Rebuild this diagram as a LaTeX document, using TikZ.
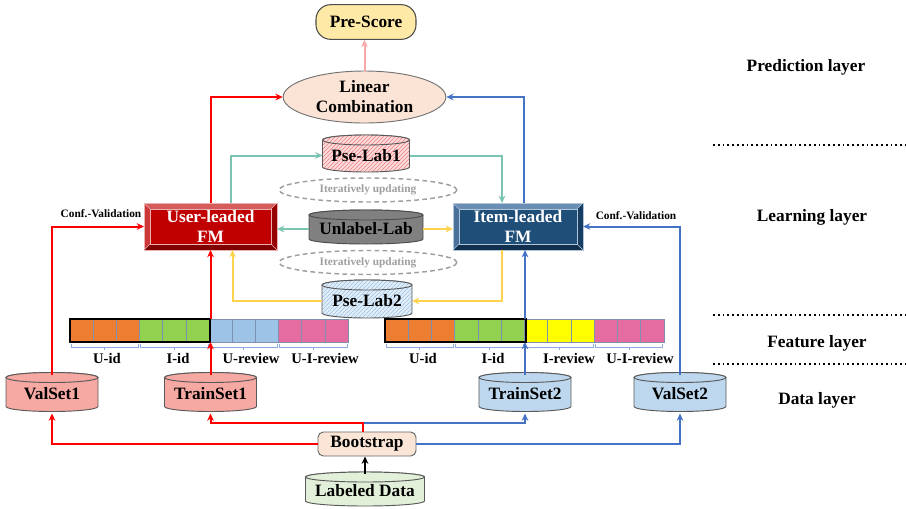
\documentclass[tikz,border=0pt]{standalone}
\usepackage{fontspec}
\setmainfont{Liberation Serif}
\usetikzlibrary{arrows.meta,calc,shapes.geometric,patterns}

% palette
\definecolor{cRed}{HTML}{FF0000}
\definecolor{cBlue}{HTML}{4472C4}
\definecolor{cTeal}{HTML}{7CC4B2}
\definecolor{cYel}{HTML}{FFD34D}
\definecolor{cPink}{HTML}{F7A8A8}
\definecolor{psFill}{HTML}{FFE9A6}
\definecolor{lcFill}{HTML}{FBE3D6}
\definecolor{bsFill}{HTML}{FBE5D6}
\definecolor{ldFill}{HTML}{E2F0D9}
\definecolor{vsRed}{HTML}{F6A8A2}
\definecolor{vsBlue}{HTML}{BDD7EE}
\definecolor{ulGray}{HTML}{808080}
\definecolor{p1Fill}{HTML}{FCDCDC}
\definecolor{p1Line}{HTML}{EE8080}
\definecolor{p2Fill}{HTML}{E2EEF8}
\definecolor{p2Line}{HTML}{9DC3E6}
\definecolor{fOr}{HTML}{ED7D31}
\definecolor{fGr}{HTML}{92D050}
\definecolor{fLb}{HTML}{9DC3E6}
\definecolor{fPk}{HTML}{E46CA0}
\definecolor{fYe}{HTML}{FFFF00}
\definecolor{cellEdge}{HTML}{7F8FB0}
\definecolor{braceCol}{HTML}{8FAADC}
\definecolor{itGray}{HTML}{9E9E9E}
% bevel colours: user (red) and item (blue)
\definecolor{uFace}{HTML}{C00000}
\definecolor{uTop}{HTML}{D65C5C}
\definecolor{uLeft}{HTML}{CC3838}
\definecolor{uBot}{HTML}{800000}
\definecolor{uRight}{HTML}{960000}
\definecolor{uEdge}{HTML}{E8B0B0}
\definecolor{iFace}{HTML}{1F4E79}
\definecolor{iTop}{HTML}{6A8DB3}
\definecolor{iLeft}{HTML}{4A719A}
\definecolor{iBot}{HTML}{12304D}
\definecolor{iRight}{HTML}{173E62}
\definecolor{iEdge}{HTML}{B0C4DA}

\tikzset{
  big/.style={font=\bfseries\fontsize{13}{15}\selectfont, align=center},
  small/.style={font=\bfseries\fontsize{8.5}{10}\selectfont},
  barlbl/.style={font=\bfseries\fontsize{11}{13}\selectfont},
  wire/.style={line width=1.5pt},
  tip/.style={-{Stealth[length=5.5pt,width=5pt]}},
  redw/.style={wire, draw=cRed},
  bluew/.style={wire, draw=cBlue},
  tealw/.style={wire, draw=cTeal},
  yelw/.style={wire, draw=cYel},
  cyltext/.style={big, inner sep=0pt, outer sep=0pt},
  cylred/.style={fill=vsRed, draw=black!65, line width=0.7pt},
  cylblue/.style={fill=vsBlue, draw=black!65, line width=0.7pt},
  cylgray/.style={fill=ulGray, draw=black!70, line width=0.7pt},
  cylgreen/.style={fill=ldFill, draw=black!65, line width=0.7pt},
  cylhatchred/.style={preaction={fill=p1Fill}, pattern=north east lines, pattern color=p1Line, draw=black!65, line width=0.7pt},
  cylhatchblue/.style={preaction={fill=p2Fill}, pattern=north east lines, pattern color=p2Line, draw=black!65, line width=0.7pt},
  iterell/.style={ellipse, draw=itGray, dashed, dash pattern=on 3.5pt off 2.5pt, line width=1.1pt,
    minimum width=133.5pt, minimum height=18pt, inner sep=0pt, small, text=itGray},
  layerdots/.style={line width=1.6pt, dash pattern=on 1.4pt off 2.2pt},
  layerlbl/.style={font=\bfseries\fontsize{13}{15}\selectfont},
}

% cylinder: name, centre x, centre y (downwards), width, height, style, text
\newcommand\cylnode[7]{%
  \path[#6] ({#2-#4/2},{-#3+#5/2-5}) -- ({#2-#4/2},{-#3-#5/2+5})
    arc[start angle=180,end angle=360,x radius={#4/2},y radius=5]
    -- ({#2+#4/2},{-#3+#5/2-5})
    arc[start angle=0,end angle=180,x radius={#4/2},y radius=5] -- cycle;
  \path[#6] ({#2},{-#3+#5/2-5}) ellipse[x radius={#4/2},y radius=5];
  \node[cyltext, minimum width={#4*0.75pt}, minimum height={#5*0.75pt}] (#1) at (#2,{-#3-2}) {#7};%
}

% bevelled box: name, centre x, centre y (downwards), width, height, colour prefix, text
\newcommand\bevelbox[7]{%
  \node[big, text=white, fill=#6Face, draw=#6Edge, line width=0.5pt, outer sep=0pt,
        minimum width={#4*0.75pt}, minimum height={#5*0.75pt}] (#1) at (#2,-#3) {#7};
  \fill[#6Top] (#1.north west) -- (#1.north east) -- ($(#1.north east)+(-6,-6)$) -- ($(#1.north west)+(6,-6)$) -- cycle;
  \fill[#6Left] (#1.north west) -- ($(#1.north west)+(6,-6)$) -- ($(#1.south west)+(6,6)$) -- (#1.south west) -- cycle;
  \fill[#6Bot] (#1.south west) -- ($(#1.south west)+(6,6)$) -- ($(#1.south east)+(-6,6)$) -- (#1.south east) -- cycle;
  \fill[#6Right] (#1.south east) -- ($(#1.south east)+(-6,6)$) -- ($(#1.north east)+(-6,-6)$) -- (#1.north east) -- cycle;
  \draw[#6Edge, line width=0.5pt] (#1.north west) rectangle (#1.south east);
  \draw[#6Edge, line width=0.4pt] ($(#1.north west)+(6,-6)$) rectangle ($(#1.south east)+(-6,6)$);
  \draw[#6Edge, line width=0.4pt] (#1.north west) -- ++(6,-6) (#1.north east) -- ++(-6,-6)
     (#1.south west) -- ++(6,6) (#1.south east) -- ++(-6,6);%
}

\begin{document}
\begin{tikzpicture}[x=0.75pt,y=0.75pt]
\useasboundingbox (0,0) rectangle (906,-508);

% ---------- prediction layer ----------
\node[big, fill=psFill, draw=black!70, line width=0.8pt, rounded corners=11pt,
      minimum width=75pt, minimum height=26pt, inner sep=0pt] (ps) at (366,-22) {Pre-Score};
\node[big, ellipse, fill=lcFill, draw=black!55, line width=0.7pt, inner sep=0pt,
      minimum width=122pt, minimum height=39pt] (lc) at (364.5,-97) {Linear\\Combination};

% ---------- learning layer ----------
\cylnode{pl1}{366}{153.5}{87}{37}{cylhatchred}{Pse-Lab1}
\node[iterell] (it1) at (368,-190) {Iteratively updating};
\cylnode{ul}{366}{227}{114}{34}{cylgray}{Unlabel-Lab}
\node[iterell] (it2) at (368,-262.5) {Iteratively updating};
\cylnode{pl2}{367}{299}{90}{38}{cylhatchblue}{Pse-Lab2}

\bevelbox{ufm}{210.5}{226.5}{133}{47}{u}{User-leaded\\FM}
\bevelbox{ifm}{518}{226.5}{130}{47}{i}{Item-leaded\\FM}

\node[small] (cv1) at (101,-214) {Conf.-Validation};
\node[small] (cv2) at (636,-216) {Conf.-Validation};

% ---------- feature layer ----------
\foreach \c [count=\i from 0] in {fOr,fOr,fOr,fGr,fGr,fGr,fLb,fLb,fLb,fPk,fPk,fPk}
  \filldraw[fill=\c, draw=cellEdge, line width=0.5pt] ({70+\i*23.17},-319) rectangle ++(23.17,-23);
\foreach \c [count=\i from 0] in {fOr,fOr,fOr,fGr,fGr,fGr,fYe,fYe,fYe,fPk,fPk,fPk}
  \filldraw[fill=\c, draw=cellEdge, line width=0.5pt] ({385+\i*23.25},-319) rectangle ++(23.25,-23);
\node[draw=black, line width=2.2pt, inner sep=0pt, outer sep=0pt,
      minimum width=105pt, minimum height=17.25pt] (fb1) at (140,-330.5) {};
\node[draw=black, line width=2.2pt, inner sep=0pt, outer sep=0pt,
      minimum width=105.75pt, minimum height=17.25pt] (fb2) at (455.5,-330.5) {};
\foreach \a in {70,139.5,209,278.5,385,454.75,524.5,594.25}
  \draw[braceCol, line width=0.6pt] (\a+1,-344) -- (\a+1,-347) -- (\a+68.5,-347) -- (\a+68.5,-344)
     (\a+34.75,-347) -- ++(0,-3);
\foreach \t/\xx/\n in {U-id/107/a, I-id/178/b, U-review/251/c, U-I-review/325/d,
                       U-id/423/e, I-id/493/f, I-review/569/g, U-I-review/640/h}
  \node[barlbl] (fl\n) at (\xx,-358) {\t};

% ---------- data layer ----------
\cylnode{vs1}{52}{392}{92}{39}{cylred}{ValSet1}
\cylnode{ts1}{210.5}{392}{92}{39}{cylred}{TrainSet1}
\cylnode{ts2}{525}{392}{92}{39}{cylblue}{TrainSet2}
\cylnode{vs2}{680}{392}{92}{39}{cylblue}{ValSet2}
\node[big, fill=bsFill, draw=black!60, line width=0.7pt, rounded corners=4pt,
      minimum width=73.5pt, minimum height=18pt, inner sep=0pt] (bs) at (367,-444) {Bootstrap};
\cylnode{ld}{365}{489}{119}{34}{cylgreen}{Labeled Data}
\coordinate (split) at (363,-423);

% ---------- layer captions ----------
\node[layerlbl] (lp) at (806,-67) {Prediction layer};
\node[layerlbl] (ll) at (812,-217) {Learning layer};
\node[layerlbl] (lf) at (817,-343) {Feature layer};
\node[layerlbl] (lda) at (817,-400) {Data layer};
\draw[layerdots] (713,-145) -- (906,-145);
\draw[layerdots] (713,-315) -- (906,-315);
\draw[layerdots] (713,-364) -- (906,-364);

% ---------- connectors ----------
\draw[wire, draw=cPink, tip] (lc.north) -- (lc.north |- ps.south);
\draw[redw, tip] (ufm.north) |- (lc.west);
\draw[bluew, tip] ($(ifm.north)+(6,0)$) |- (lc.east);
\draw[tealw, tip] ($(ufm.north)+(20,0)$) |- (pl1.west);
\draw[tealw, tip] (pl1.east) -| ($(ifm.north)+(-16,0)$);
\draw[tealw, tip] (ul.west) -- (ul.west -| ufm.east);
\draw[yelw, tip] (ul.east) -- (ul.east -| ifm.west);
\draw[yelw, tip] ($(ifm.south)+(-16,0)$) |- (pl2.east);
\draw[yelw, tip] (pl2.west) -| ($(ufm.south)+(22,0)$);

\draw[redw, tip] (ts1.north) -- (ts1.north |- fb1.south);
\draw[redw, tip] (ts1.north |- fb1.north) -- (ts1.north |- ufm.south);
\draw[bluew, tip] (ts2.north) -- (ts2.north |- fb2.south);
\draw[bluew, tip] (ts2.north |- fb2.north) -- (ts2.north |- ifm.south);
\draw[redw, tip] (vs1.north) |- (ufm.west);
\draw[bluew, tip] (vs2.north) |- (ifm.east);

\draw[line width=1.5pt, tip] (ld.north) -- (ld.north |- bs.south);
\draw[bluew, tip] (split) -| (ts2.south);
\draw[redw, tip] (split |- bs.north) -- (split) -| (ts1.south);
\draw[redw, tip] (bs.west) -| (vs1.south);
\draw[bluew, tip] (bs.east) -| (vs2.south);
\end{tikzpicture}
\end{document}
